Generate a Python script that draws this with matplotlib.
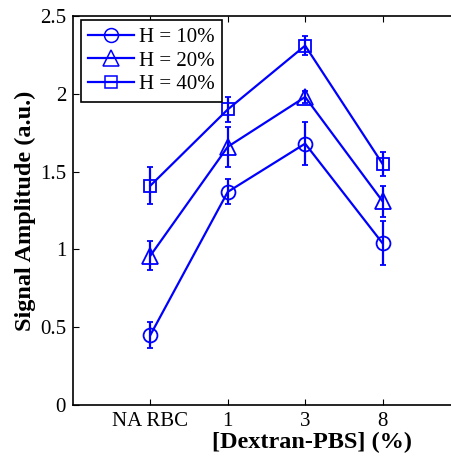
import matplotlib
matplotlib.use("Agg")
import matplotlib.pyplot as plt
from matplotlib.lines import Line2D

categories = ["NA RBC", "1", "3", "8"]
h10 = [0.45, 1.37, 1.68, 1.04]
h10_err = [0.085, 0.08, 0.14, 0.14]
h20 = [0.96, 1.66, 1.98, 1.31]
h20_err = [0.095, 0.13, 0.04, 0.10]
h40 = [1.41, 1.90, 2.31, 1.55]
h40_err = [0.12, 0.08, 0.06, 0.075]
labels = ["H = 10%", "H = 20%", "H = 40%"]

plt.rcParams["font.family"] = ["Liberation Serif", "DejaVu Serif"]

fig = plt.figure(figsize=(4.52, 4.57), dpi=100)
ax = fig.add_axes([0.1615, 0.1138, 0.856, 0.851])

blue = "#0000ff"
x = list(range(1, len(categories) + 1))
series = [(h10, h10_err, "o", 10), (h20, h20_err, "^", 11), (h40, h40_err, "s", 9)]
handles = []
for (vals, errs, mk, ms), lab in zip(series, labels):
    ax.errorbar(
        x, vals, yerr=errs,
        color=blue, lw=1.6, marker=mk, markersize=ms,
        markerfacecolor="none", markeredgewidth=1.3,
        elinewidth=1.6, capsize=2, capthick=1.6,
    )
    handles.append(Line2D([], [], color=blue, lw=1.6, marker=mk, markersize=ms,
                          markerfacecolor="none", markeredgewidth=1.1, label=lab))

ax.set_xlim(0, 5)
ax.set_ylim(0, 2.5)
ax.set_xticks(x)
ax.set_xticklabels(categories)
ax.set_yticks([0, 0.5, 1, 1.5, 2, 2.5])
ax.set_yticklabels(["0", "0.5", "1", "1.5", "2", "2.5"])
ax.tick_params(direction="in", top=True, right=False, labelsize=15, length=4, pad=5)
for sp in ax.spines.values():
    sp.set_linewidth(1.2)
ax.spines["right"].set_visible(False)

ax.set_xlabel("[Dextran-PBS] (%)", fontsize=17.5, fontweight="bold")
ax.set_ylabel("Signal Amplitude (a.u.)", fontsize=17.5, fontweight="bold")
ax.xaxis.set_label_coords(0.618, -0.07)
ax.yaxis.set_label_coords(-0.095, 0.5)

leg = ax.legend(handles=handles, loc="upper left", bbox_to_anchor=(0.02, 0.99),
                borderaxespad=0, fontsize=15, fancybox=False, edgecolor="black",
                framealpha=1, handlelength=2.2, labelspacing=0.2, borderpad=0.35,
                handletextpad=0.25)
leg.get_frame().set_linewidth(1.2)

fig.savefig("out.png", dpi=100)
